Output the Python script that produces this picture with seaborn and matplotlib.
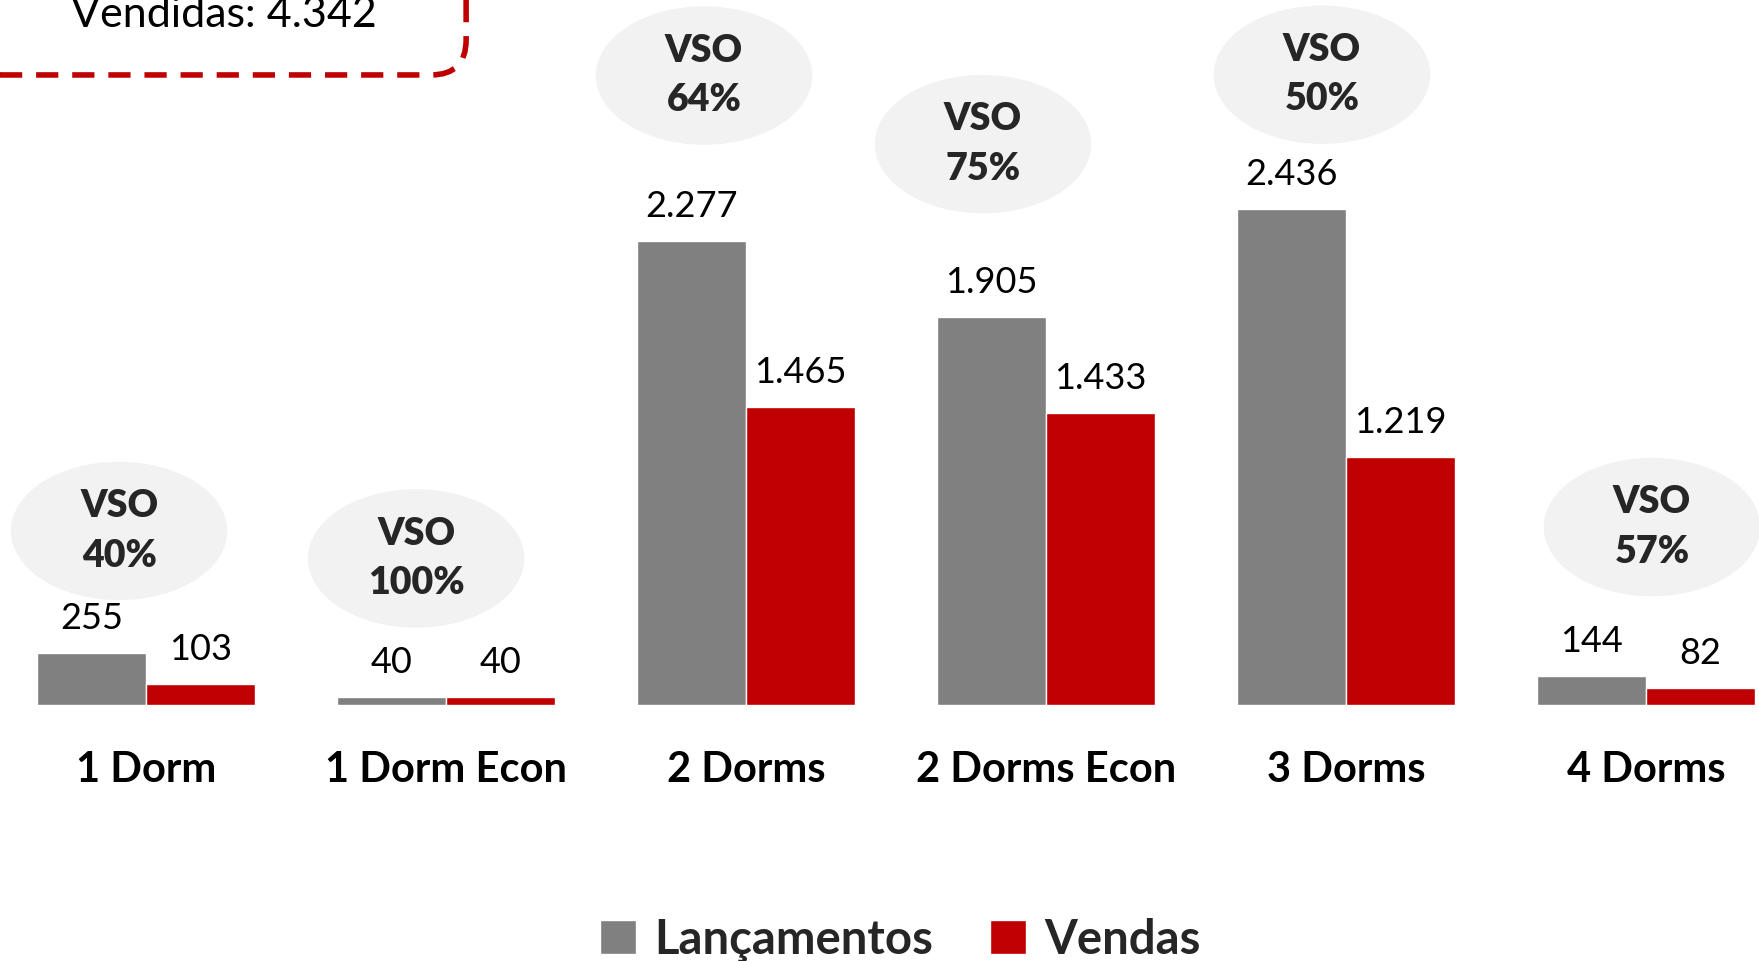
import matplotlib.pyplot as plt
import seaborn as sns
import pandas as pd
from matplotlib.patches import Ellipse, FancyBboxPatch, Patch

sns.set_theme(style="white")
plt.rcParams['font.family'] = ['Lato', 'DejaVu Sans']

# data
categories = ['1 Dorm', '1 Dorm Econ', '2 Dorms', '2 Dorms Econ', '3 Dorms', '4 Dorms']
lancamentos = [255, 40, 2277, 1905, 2436, 144]
vendas = [103, 40, 1465, 1433, 1219, 82]
vso = [40, 100, 64, 75, 50, 57]
total_vendidas = '4.342'

# bubble placement (offset from group centre, height above tallest bar)
bubble_dx = [-0.09, -0.10, -0.14, -0.21, -0.08, 0.02]
bubble_dy = [600, 680, 815, 850, 660, 730]

gray = '#808080'
red = '#c00000'

df = pd.DataFrame({
    'Categoria': categories * 2,
    'Valor': lancamentos + vendas,
    'Serie': ['Lançamentos'] * len(categories) + ['Vendas'] * len(categories),
})

fig = plt.figure(figsize=(17.59, 9.61), dpi=100)
ax = fig.add_axes([0, 0.2664, 1, 0.7336])

sns.barplot(data=df, x='Categoria', y='Valor', hue='Serie',
            palette=[gray, red], width=0.727, gap=0, ax=ax,
            saturation=1, legend=False)

ax.set_xlim(-0.487, 5.377)
ax.set_ylim(0, 3463)
ax.set_xlabel('')
ax.set_ylabel('')
ax.set_yticks([])
ax.tick_params(axis='x', length=0, pad=33)
for lbl in ax.get_xticklabels():
    lbl.set_fontsize(30)
    lbl.set_fontweight('bold')
    lbl.set_color('black')
sns.despine(ax=ax, left=True, bottom=True)

def fmt(v):
    return f"{v:,}".replace(',', '.')

for cont in ax.containers:
    ax.bar_label(cont, labels=[fmt(int(b.get_height())) for b in cont],
                 padding=13, fontsize=26, color='black')

for i, cat in enumerate(categories):
    top = max(lancamentos[i], vendas[i])
    cx = i + bubble_dx[i]
    cy = top + bubble_dy[i]
    ax.add_patch(Ellipse((cx, cy), 0.717, 673, color='#f2f2f2', zorder=1, clip_on=False))
    ax.text(cx, cy, f"VSO\n{vso[i]}%", ha='center', va='center', fontsize=27,
            fontweight='heavy', linespacing=1.55, zorder=2)

# dashed box at top left (partially outside)
box = FancyBboxPatch((-0.02, 0.922), 0.285, 0.2, transform=fig.transFigure,
                     boxstyle='round,pad=0,rounding_size=0.02',
                     fill=False, edgecolor=red, linewidth=4,
                     linestyle=(0, (4, 2.5)), mutation_aspect=1.83)
fig.patches.append(box)
fig.text(0.127, 0.972, f"Vendidas: {total_vendidas}", ha='center', va='baseline',
         fontsize=31, color='black')

# legend
handles = [Patch(facecolor=gray, label='Lançamentos'), Patch(facecolor=red, label='Vendas')]
fig.legend(handles=handles, loc='center', bbox_to_anchor=(0.512, 0.022), ncol=2,
           frameon=False, prop={'size': 34, 'weight': 'bold'},
           handlelength=0.75, handleheight=0.75, handletextpad=0.4, columnspacing=1.2)

plt.savefig('out.png', dpi=100)
